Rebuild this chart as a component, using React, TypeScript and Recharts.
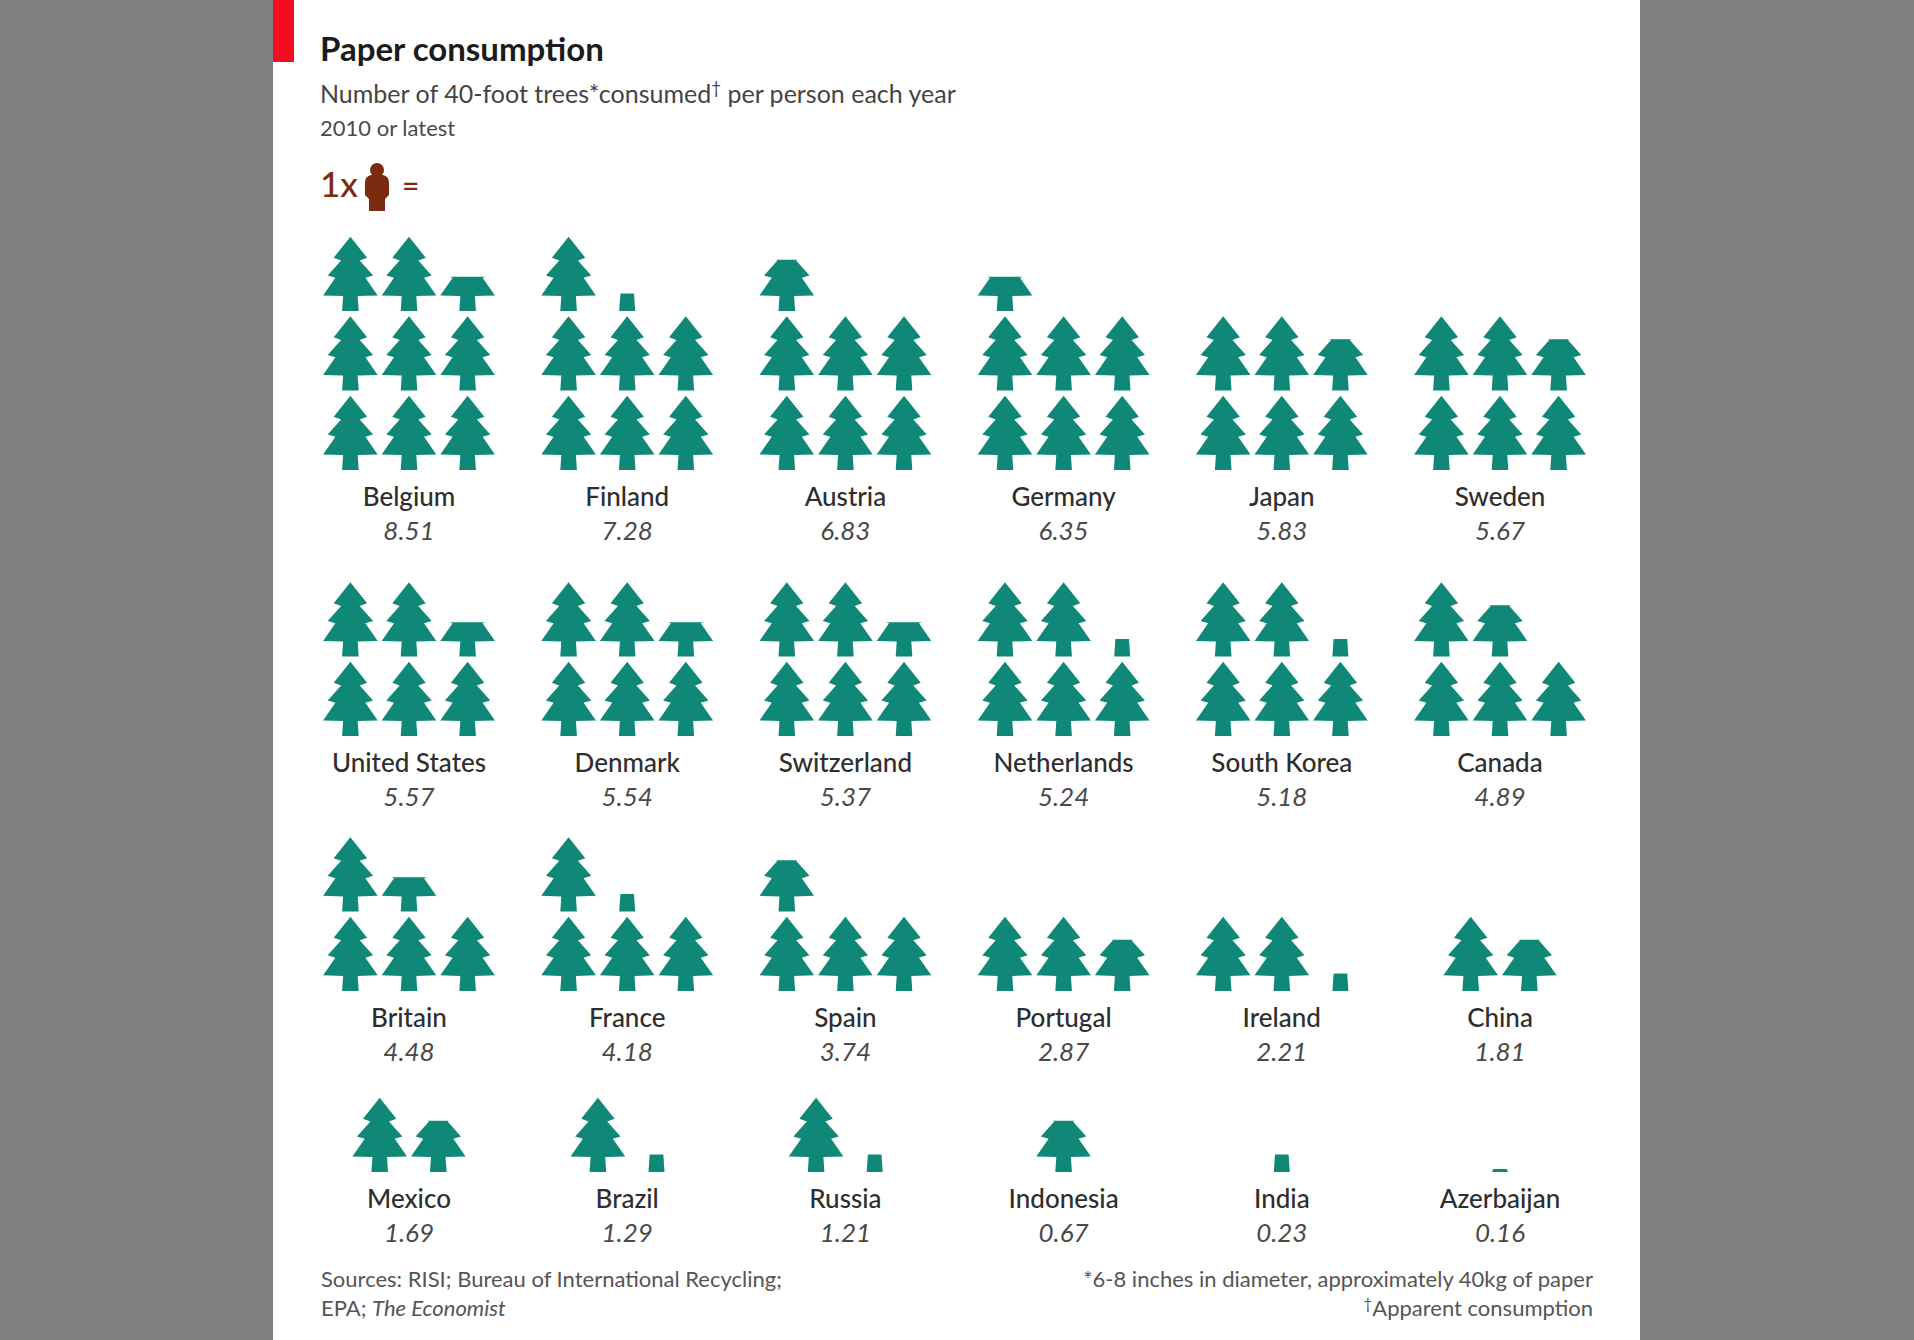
import React from "react";
import { ScatterChart, Scatter, XAxis, YAxis, Customized } from "recharts";

const countries = ["Belgium","Finland","Austria","Germany","Japan","Sweden","United States","Denmark","Switzerland","Netherlands","South Korea","Canada","Britain","France","Spain","Portugal","Ireland","China","Mexico","Brazil","Russia","Indonesia","India","Azerbaijan"];
const values = [8.51,7.28,6.83,6.35,5.83,5.67,5.57,5.54,5.37,5.24,5.18,4.89,4.48,4.18,3.74,2.87,2.21,1.81,1.69,1.29,1.21,0.67,0.23,0.16];
// How much of the last tree is drawn (the source rounds it to coarse steps)
const lastTreeFill = [0.46,0.23,0.69,0.46,0.69,0.69,0.46,0.46,0.46,0.23,0.23,0.69,0.46,0.23,0.69,0.69,0.23,0.69,0.69,0.23,0.23,0.69,0.23,0.04];
const rowBaselines = [0, 3.346, 6.553, 8.83];

const W = 1914, H = 1340;
const TREE_H = 74.3;
const COL_STEP = 0.2686;
const PER_GROUP_ROW = 6;
const FONT = "Lato, 'Noto Sans', sans-serif";
const GREEN = "#0f8878";
const BROWN = "#7c2a10";

const treeData: any[] = [];
const labelData: any[] = [];
countries.forEach((name, i) => {
  const gx = i % PER_GROUP_ROW;
  const gr = Math.floor(i / PER_GROUP_ROW);
  const n = Math.ceil(values[i]);
  labelData.push({ x: gx, y: rowBaselines[gr], name, value: values[i] });
  for (let k = 0; k < n; k++) {
    const off = n <= 2 ? k - (n - 1) / 2 : (k % 3) - 1;
    treeData.push({
      x: gx + off * COL_STEP,
      y: rowBaselines[gr] - Math.floor(k / 3),
      fill: k === n - 1 ? lastTreeFill[i] : 1,
    });
  }
});

// right half of the tree outline, [half width, height above base]
const half: [number, number][] = [
  [8.3, 0],[7.3, 15],[27.3, 15.6],[15, 33.3],[22.7, 35.6],[9.3, 50.6],[16.7, 53.3],[0, 74.3],
];
const outline: [number, number][] = [...half, ...half.slice(0, -1).reverse().map(([x, y]) => [-x, y] as [number, number])];

function clipBelow(pts: [number, number][], h: number) {
  const out: [number, number][] = [];
  for (let i = 0; i < pts.length; i++) {
    const a = pts[i], b = pts[(i + 1) % pts.length];
    if (a[1] <= h) out.push(a);
    if ((a[1] <= h) !== (b[1] <= h)) {
      const t = (h - a[1]) / (b[1] - a[1]);
      out.push([a[0] + (b[0] - a[0]) * t, h]);
    }
  }
  return out;
}

function TreeShape(p: any) {
  const { cx, cy, payload } = p;
  const f = payload.fill;
  const h = f * TREE_H;
  let pts: [number, number][];
  if (f < 0.3) {
    const topW = 6.8;
    const ph = f < 0.1 ? 3 : 17.5;
    pts = [[-8, 0],[8, 0],[topW, ph],[-topW, ph]];
  } else {
    pts = f >= 1 ? outline : clipBelow(outline, h);
  }
  return <polygon points={pts.map(([x, y]) => `${cx + x},${cy - y}`).join(" ")} fill={GREEN} />;
}

function LabelShape(p: any) {
  const { cx, cy, payload } = p;
  return (
    <g fontFamily={FONT} textAnchor="middle">
      <text x={cx} y={cy + 36} fontSize={26} fontWeight={500} fill="#2e2e2e">{payload.name}</text>
      <text x={cx} y={cy + 70} fontSize={26} fontStyle="italic" fill="#4a4a4a">{payload.value.toFixed(2)}</text>
    </g>
  );
}

function Overlay() {
  return (
    <g fontFamily={FONT}>
      <rect x={273} y={0} width={21} height={62} fill="#f20d20" />
      <text x={320} y={61} fontSize={33} fontWeight={700} fill="#1c1c1c">Paper consumption</text>
      <text x={320} y={103} fontSize={25} fill="#444">
        Number of 40-foot trees*consumed<tspan fontSize={17} dy={-9}>†</tspan><tspan dy={9}> per person each year</tspan>
      </text>
      <text x={320} y={136} fontSize={22} fill="#4a4a4a">2010 or latest</text>
      <text x={320} y={197} fontSize={35} fontWeight={500} fill={BROWN}>1x</text>
      <circle cx={377} cy={170} r={7} fill={BROWN} />
      <path d="M371,175 L383,175 Q389,176 389,183 L389,195 L385,199 L385,211 L369,211 L369,199 L365,195 L365,183 Q365,176 371,175 Z" fill={BROWN} />
      <text x={402} y={197} fontSize={30} fontWeight={500} fill={BROWN}>=</text>
      <text x={321} y={1287} fontSize={22} fill="#555">Sources: RISI; Bureau of International Recycling;</text>
      <text x={321} y={1316} fontSize={22} fill="#555">EPA; <tspan fontStyle="italic">The Economist</tspan></text>
      <text x={1593} y={1287} fontSize={22} fill="#555" textAnchor="end">*6-8 inches in diameter, approximately 40kg of paper</text>
      <text x={1593} y={1316} fontSize={22} fill="#555" textAnchor="end"><tspan fontSize={15} dy={-7}>†</tspan><tspan dy={7}>Apparent consumption</tspan></text>
    </g>
  );
}

export default function App() {
  return (
    <div style={{ position: "absolute", left: 0, top: 0, width: W, height: H, background: "#808080", overflow: "hidden" }}>
      <div style={{ position: "absolute", left: 273, top: 0, width: 1367, height: H, background: "#fff" }} />
      <div style={{ position: "absolute", left: 0, top: 0 }}>
        <ScatterChart width={W} height={H} margin={{ left: 299.9, right: 304.9, top: 231.5, bottom: 154.5 }}>
          <XAxis type="number" dataKey="x" domain={[-0.5, 5.5]} hide />
          <YAxis type="number" dataKey="y" domain={[-3, 9]} reversed hide />
          <Scatter data={treeData} shape={TreeShape} isAnimationActive={false} />
          <Scatter data={labelData} shape={LabelShape} isAnimationActive={false} />
          <Customized component={Overlay} />
        </ScatterChart>
      </div>
    </div>
  );
}
